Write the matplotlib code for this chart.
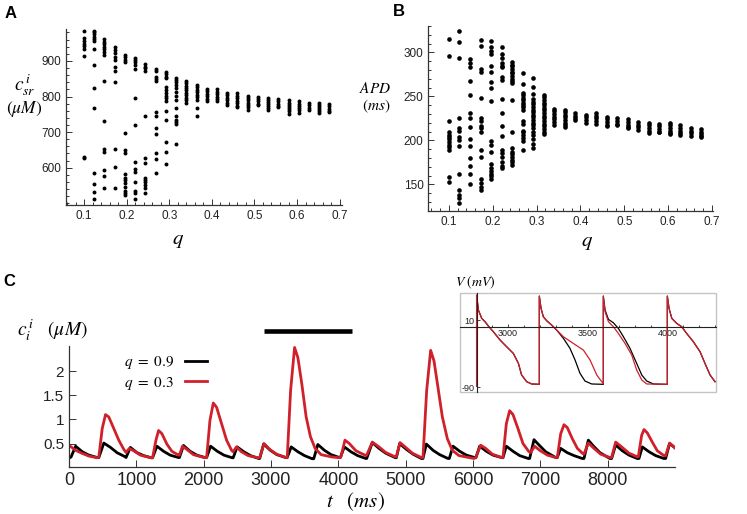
import matplotlib
matplotlib.use("Agg")
import matplotlib.pyplot as plt
from matplotlib.patches import Rectangle
from matplotlib.ticker import MultipleLocator

plt.rcParams["font.family"] = ["Liberation Sans", "DejaVu Sans"]
plt.rcParams["mathtext.fontset"] = "stix"

RED = "#d0202a"
GREY = "#333333"

# q columns shared by panels A and B
q_cols = [0.100, 0.124, 0.148, 0.172, 0.196, 0.220, 0.244, 0.268, 0.292, 0.316,
          0.340, 0.364, 0.388, 0.412, 0.436, 0.460, 0.484, 0.508, 0.532, 0.556,
          0.580, 0.604, 0.628, 0.652, 0.676]

# panel A: SR calcium (uM), one list per q column
csr_vals = [
    [985, 964, 957, 949, 943, 934, 915, 630, 627],
    [985, 980, 975, 968, 962, 956, 935, 889, 823, 769, 586, 554, 531, 512],
    [962, 954, 948, 940, 934, 926, 917, 845, 732, 652, 645, 592, 577, 544],
    [938, 931, 921, 912, 903, 884, 873, 840, 652, 602, 544],
    [917, 910, 904, 898, 696, 650, 640, 581, 572, 565, 556, 545, 535, 528, 522],
    [909, 903, 896, 889, 876, 795, 720, 617, 596, 587, 561, 534, 528, 512],
    [891, 884, 879, 873, 746, 626, 612, 572, 565, 559, 551, 544, 530],
    [877, 872, 856, 849, 844, 756, 746, 712, 695, 642, 623, 586],
    [870, 863, 856, 851, 826, 818, 811, 801, 795, 787, 760, 734, 673, 645, 610],
    [853, 846, 840, 832, 825, 814, 802, 790, 769, 746, 734, 727, 722, 666],
    [844, 837, 830, 823, 817, 810, 803, 796, 789, 782],
    [833, 826, 819, 812, 805, 798, 791, 769, 745],
    [822, 815, 808, 801, 794, 788],
    [820, 813, 806, 799, 792, 786],
    [811, 804, 797, 790, 783, 777],
    [809, 802, 795, 788, 781, 774, 771],
    [801, 795, 789, 783, 777, 771, 763],
    [798, 792, 786, 780, 777],
    [797, 791, 785, 779, 773, 767, 763],
    [792, 786, 780, 774, 770],
    [789, 783, 777, 771, 765, 759, 751],
    [786, 780, 774, 768, 762, 755],
    [781, 775, 769, 763],
    [783, 777, 771, 765, 759, 753],
    [778, 772, 766, 760, 756],
]

# panel B: APD (ms), one list per q column
apd_vals = [
    [315, 296, 222, 209, 206, 204, 201, 198, 195, 192, 189, 158, 153],
    [324, 312, 294, 225, 214, 211, 204, 200, 193, 162, 143, 138, 134, 129],
    [292, 288, 283, 267, 252, 231, 225, 215, 201, 193, 180, 171, 162, 150],
    [314, 307, 281, 278, 248, 225, 222, 216, 214, 209, 189, 181, 156, 151, 147, 144],
    [313, 306, 302, 298, 285, 278, 266, 260, 245, 199, 195, 187, 173, 169, 165, 162, 159, 156],
    [306, 298, 294, 288, 285, 283, 272, 269, 247, 231, 216, 205, 189, 186, 181, 175, 171, 169],
    [289, 286, 284, 281, 278, 276, 273, 270, 268, 265, 246, 209, 191, 187, 184, 181, 178, 175, 172],
    [276, 264, 254, 251, 248, 246, 243, 240, 238, 235, 222, 219, 211, 209, 206, 203, 199, 189],
    [271, 261, 253, 247, 244, 241, 238, 235, 232, 229, 226, 223, 220, 217, 214, 210, 206, 201, 196, 191],
    [252, 249, 246, 243, 240, 237, 234, 231, 228, 225, 222, 219, 216, 213, 210, 207],
    [236, 233, 230, 227, 224, 221, 218],
    [235, 232, 229, 226, 223, 220, 217, 215],
    [231, 228, 225, 223],
    [229, 226, 223, 220],
    [231, 228, 225, 222, 219],
    [227, 224, 221, 218, 216],
    [225, 222, 219, 217],
    [224, 221, 218, 215, 214],
    [221, 218, 215, 212],
    [220, 217, 214, 211, 208],
    [219, 216, 213, 210, 209],
    [220, 217, 214, 211, 208, 207],
    [217, 214, 211, 208, 206],
    [214, 211, 208, 205],
    [213, 210, 207, 205, 204],
]

# panel C: cytosolic calcium traces (t in ms, c in uM)
t_black = [0, 30, 98, 197, 295, 419,
           443, 517, 616, 714, 828,
           847, 911, 1010, 1108, 1222,
           1241, 1305, 1404, 1502, 1625,
           1640, 1700, 1798, 1897, 2020,
           2044, 2103, 2202, 2300, 2423,
           2438, 2497, 2596, 2695, 2818,
           2832, 2891, 2990, 3088, 3217,
           3241, 3300, 3399, 3497, 3611,
           3635, 3695, 3793, 3892, 4015,
           4029, 4089, 4187, 4286, 4409,
           4421, 4505, 4604, 4703, 4842,
           4861, 4911, 5010, 5109, 5233,
           5257, 5307, 5406, 5505, 5629,
           5648, 5703, 5802, 5901, 6025,
           6044, 6099, 6198, 6297, 6426,
           6445, 6495, 6594, 6693, 6822,
           6841, 6906, 6980, 7079, 7228,
           7252, 7302, 7401, 7500, 7624,
           7648, 7713, 7787, 7886, 8034,
           8059, 8119, 8218, 8317, 8440,
           8465, 8515, 8614, 8713, 8836,
           8861, 8920, 9010]
c_black = [0.20, 0.22, 0.445, 0.33, 0.26, 0.21,
           0.21, 0.51, 0.42, 0.31, 0.23,
           0.21, 0.42, 0.31, 0.25, 0.205,
           0.205, 0.445, 0.34, 0.26, 0.21,
           0.21, 0.46, 0.34, 0.26, 0.21,
           0.21, 0.445, 0.34, 0.26, 0.205,
           0.205, 0.43, 0.33, 0.25, 0.19,
           0.19, 0.49, 0.36, 0.27, 0.21,
           0.21, 0.43, 0.33, 0.25, 0.185,
           0.185, 0.48, 0.36, 0.27, 0.21,
           0.21, 0.43, 0.33, 0.25, 0.19,
           0.19, 0.52, 0.40, 0.30, 0.21,
           0.205, 0.50, 0.38, 0.28, 0.19,
           0.19, 0.49, 0.36, 0.27, 0.19,
           0.19, 0.445, 0.34, 0.26, 0.21,
           0.21, 0.445, 0.34, 0.26, 0.21,
           0.205, 0.445, 0.34, 0.25, 0.19,
           0.19, 0.58, 0.47, 0.33, 0.21,
           0.21, 0.40, 0.31, 0.25, 0.19,
           0.19, 0.57, 0.45, 0.31, 0.19,
           0.19, 0.47, 0.35, 0.26, 0.19,
           0.19, 0.43, 0.33, 0.25, 0.19,
           0.19, 0.50, 0.40]

t_red = [0, 98, 197, 295, 419,
         443, 493, 542, 591, 665, 739, 813,
         847, 896, 961, 1059, 1222,
         1241, 1291, 1330, 1379, 1453, 1527, 1625,
         1640, 1685, 1749, 1847, 2020,
         2044, 2093, 2143, 2192, 2266, 2340, 2414,
         2438, 2487, 2561, 2660, 2808,
         2833, 2896, 2980, 3079, 3226,
         3241, 3291, 3350, 3399, 3458, 3522, 3586, 3655, 3744, 3892, 4015,
         4039, 4098, 4163, 4261, 4409,
         4421, 4505, 4604, 4703, 4842,
         4861, 4916, 5000, 5099, 5233,
         5257, 5312, 5371, 5421, 5480, 5545, 5619, 5693, 5792, 6015,
         6040, 6114, 6188, 6287, 6426,
         6445, 6495, 6544, 6594, 6668, 6742, 6831,
         6856, 6916, 6990, 7104, 7228,
         7252, 7302, 7351, 7401, 7475, 7550, 7624,
         7648, 7713, 7797, 7896, 8034,
         8059, 8119, 8208, 8317, 8440,
         8455, 8505, 8540, 8589, 8663, 8737, 8836,
         8861, 8920, 9010]
c_red = [0.465, 0.36, 0.295, 0.24, 0.205,
         0.225, 0.81, 1.10, 1.05, 0.81, 0.57, 0.38,
         0.315, 0.40, 0.35, 0.26, 0.205,
         0.205, 0.57, 0.77, 0.705, 0.49, 0.34, 0.26,
         0.26, 0.445, 0.38, 0.27, 0.205,
         0.21, 0.98, 1.34, 1.25, 0.91, 0.57, 0.36,
         0.33, 0.43, 0.33, 0.25, 0.205,
         0.21, 0.50, 0.38, 0.28, 0.21,
         0.21, 1.60, 2.49, 2.28, 1.73, 1.05, 0.64, 0.40, 0.27, 0.225, 0.205,
         0.225, 0.57, 0.50, 0.35, 0.25,
         0.26, 0.53, 0.43, 0.315, 0.225,
         0.225, 0.52, 0.42, 0.30, 0.21,
         0.21, 1.60, 2.43, 2.21, 1.66, 1.05, 0.60, 0.36, 0.25, 0.19,
         0.205, 0.465, 0.40, 0.28, 0.21,
         0.21, 0.91, 1.18, 1.10, 0.81, 0.50, 0.33,
         0.315, 0.445, 0.36, 0.26, 0.21,
         0.21, 0.70, 0.89, 0.83, 0.60, 0.40, 0.30,
         0.28, 0.51, 0.40, 0.28, 0.21,
         0.21, 0.53, 0.43, 0.30, 0.225,
         0.225, 0.67, 0.79, 0.72, 0.53, 0.35, 0.25,
         0.25, 0.51, 0.40]

# time window shown in the inset (black bar)
inset_window = [2900, 4200]
bar_level = 2.83

# inset: membrane voltage (mV)
tv_black = [2805, 2805, 2816, 2837, 2858, 2879, 2910, 2952, 2993, 3035, 3067, 3087, 3119, 3150, 3198,
            3198, 3209, 3223, 3244, 3275, 3307, 3349, 3390, 3422, 3453, 3484, 3526, 3599,
            3599, 3610, 3631, 3662, 3693, 3725, 3766, 3808, 3840, 3871, 3913, 4000,
            4000, 4011, 4028, 4059, 4090, 4121, 4163, 4205, 4236, 4268, 4299]
v_black = [-88, 47, 25, 12.5, 7.5, 1, -7.3, -19.7, -29.6, -39.5, -54.4, -71.7, -81.6, -85, -85.5,
           45.6, 27.3, 15, 9, 2.6, -4.9, -17.2, -32, -49.4, -69.2, -80.6, -85, -85.5,
           45.6, 24.8, 11, 6, -2.4, -14.8, -32, -54.4, -71.7, -80.6, -85, -85.5,
           45.6, 27.3, 12.5, 5, 0.1, -9.8, -22.2, -37, -54.4, -71.7, -81.6]
tv_red = [2805, 2805, 2816, 2837, 2858, 2879, 2910, 2952, 2993, 3035, 3067, 3087, 3119, 3150, 3198,
          3198, 3209, 3223, 3244, 3275, 3307, 3349, 3411, 3474, 3516, 3558, 3589, 3599,
          3599, 3610, 3631, 3662, 3693, 3735, 3777, 3808, 3840, 3871, 4000,
          4000, 4011, 4028, 4059, 4090, 4121, 4163, 4205, 4236, 4268, 4299]
v_red = [-88, 47, 25, 12.5, 7.5, 1, -7.3, -19.7, -29.6, -39.5, -54.4, -71.7, -81.6, -85, -85.5,
         45.6, 27.3, 15, 9, 2.6, -4.9, -14.8, -24.7, -34.6, -49.4, -71.7, -81.6, -84,
         45.6, 22.4, 7.5, 0.1, -9.8, -24.7, -42, -64.3, -79.1, -85, -85.5,
         45.6, 27.3, 12.5, 5, 0.1, -9.8, -22.2, -37, -54.4, -71.7, -81.6]


def flatten(cols, vals):
    xs, ys = [], []
    for q, col in zip(cols, vals):
        xs += [q] * len(col)
        ys += col
    return xs, ys


def axis_style(ax, size):
    for side in ("top", "right"):
        ax.spines[side].set_visible(False)
    for side in ("left", "bottom"):
        ax.spines[side].set_color(GREY)
        ax.spines[side].set_linewidth(0.9)
    ax.tick_params(which="both", direction="in", colors=GREY, labelcolor="#222222",
                   labelsize=size, width=0.7)
    ax.tick_params(which="major", length=4)
    ax.tick_params(which="minor", length=2)


fig = plt.figure(figsize=(7.47, 5.14), dpi=100)

# ---- panel A
axA = fig.add_axes([0.0880, 0.6012, 0.3695, 0.3418])
xs, ys = flatten(q_cols, csr_vals)
axA.scatter(xs, ys, s=8, c="black", linewidths=0)
axA.set_xlim(0.057, 0.705)
axA.set_ylim(495, 989)
axA.set_xticks([0.1, 0.2, 0.3, 0.4, 0.5, 0.6, 0.7])
axA.set_xticklabels(["0.1", "0.2", "0.3", "0.4", "0.5", "0.6", "0.7"])
axA.set_yticks([600, 700, 800, 900])
axA.xaxis.set_minor_locator(MultipleLocator(0.02))
axA.yaxis.set_minor_locator(MultipleLocator(20))
axis_style(axA, 8.5)

fig.text(25 / 747, 1 - 85 / 514, r"$c_{sr}^{\,i}$", fontsize=14, ha="center", va="center")
fig.text(24 / 747, 1 - 109 / 514, r"$(\mu M)$", fontsize=12.5, ha="center", va="center")
fig.text(178 / 747, 1 - 241 / 514, r"$q$", fontsize=15, ha="center", va="center")
fig.text(5 / 747, 1 - 14 / 514, "A", fontsize=12, fontweight="bold", ha="left", va="center")

# ---- panel B
axB = fig.add_axes([0.5734, 0.5901, 0.3815, 0.3593])
xs, ys = flatten(q_cols, apd_vals)
axB.scatter(xs, ys, s=11, c="black", linewidths=0)
axB.set_xlim(0.053, 0.703)
axB.set_ylim(120, 330)
axB.set_xticks([0.1, 0.2, 0.3, 0.4, 0.5, 0.6, 0.7])
axB.set_xticklabels(["0.1", "0.2", "0.3", "0.4", "0.5", "0.6", "0.7"])
axB.set_yticks([150, 200, 250, 300])
axB.xaxis.set_minor_locator(MultipleLocator(0.02))
axB.yaxis.set_minor_locator(MultipleLocator(10))
axis_style(axB, 8.5)

fig.text(375 / 747, 1 - 88 / 514, r"$APD$", fontsize=11, ha="center", va="center")
fig.text(376 / 747, 1 - 106 / 514, r"$(ms)$", fontsize=11, ha="center", va="center")
fig.text(587 / 747, 1 - 243 / 514, r"$q$", fontsize=15, ha="center", va="center")
fig.text(393 / 747, 1 - 11 / 514, "B", fontsize=12, fontweight="bold", ha="left", va="center")

# ---- panel C
axC = fig.add_axes([0.0924, 0.0920, 0.8112, 0.2348])
axC.plot(t_black, c_black, color="black", lw=2, solid_joinstyle="round", label=r"$q\ =\ 0.9$")
axC.plot(t_red, c_red, color=RED, lw=2, solid_joinstyle="round", label=r"$q\ =\ 0.3$")
axC.plot(inset_window, [bar_level, bar_level], color="black", lw=3.3,
         solid_capstyle="butt", clip_on=False)
axC.set_xlim(0, 9000)
axC.set_ylim(0.02, 2.52)
axC.set_xticks(range(0, 9000, 1000))
axC.set_yticks([0.5, 1, 1.5, 2])
axC.set_yticklabels(["0.5", "1", "1.5", "2"])
axis_style(axC, 13)
axC.tick_params(axis="y", labelsize=11)
axC.tick_params(which="major", length=5)
axC.legend(loc="upper left", bbox_to_anchor=(0.09, 0.93), frameon=False, markerfirst=False,
           handlelength=1.5, fontsize=11, borderaxespad=0, borderpad=0,
           labelspacing=0.2, handletextpad=0.7)

fig.text(17 / 747, 1 - 330 / 514, r"$c_{i}^{\,i}\ \ \ (\mu M)$", fontsize=14, ha="left", va="center")
fig.text(355 / 747, 1 - 502 / 514, r"$t\ \ \ (ms)$", fontsize=15, ha="center", va="center")
fig.text(3 / 747, 1 - 281 / 514, "C", fontsize=12, fontweight="bold", ha="left", va="center")

# ---- inset with action potentials
axI = fig.add_axes([0.6158, 0.2379, 0.3427, 0.1914])
axI.plot(tv_black, v_black, color="black", lw=0.9)
axI.plot(tv_red, v_red, color=RED, lw=0.9)
axI.set_xlim(2701, 4305)
axI.set_ylim(-96.5, 49.7)
for side in ("top", "right"):
    axI.spines[side].set_visible(False)
axI.spines["left"].set_position(("data", 2806))
axI.spines["bottom"].set_position(("data", 0))
for side in ("left", "bottom"):
    axI.spines[side].set_color("#222222")
    axI.spines[side].set_linewidth(0.8)
axI.set_xticks([3000, 3500, 4000])
axI.set_yticks([10, -90])
axI.set_yticklabels(["10", "-90"])
axI.xaxis.set_minor_locator(MultipleLocator(100))
axI.tick_params(which="both", direction="in", labelsize=6.5, pad=1.5, width=0.6,
                colors="#222222")
axI.tick_params(which="major", length=2.5)
axI.tick_params(which="minor", length=1.2)
axI.add_patch(Rectangle((0, 0), 1, 1, transform=axI.transAxes, fill=False,
                        edgecolor="#c4c4c4", lw=1.0, clip_on=False))
fig.text(455 / 747, 1 - 282 / 514, r"$V\ (mV)$", fontsize=10, ha="left", va="center")

fig.savefig("out.png", dpi=100)
